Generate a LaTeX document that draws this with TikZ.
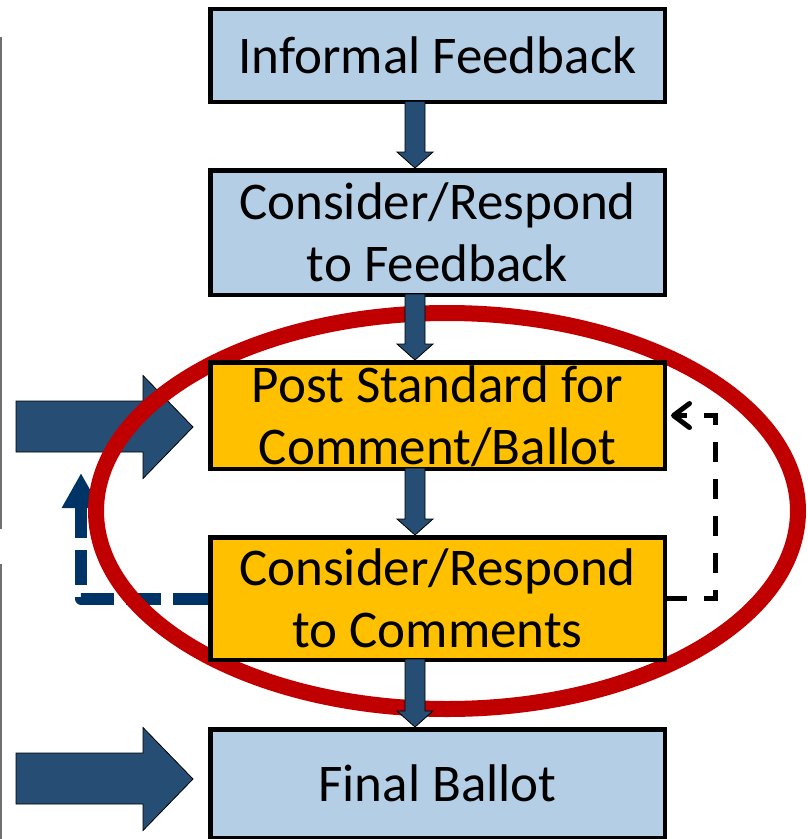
\documentclass[tikz,border=0pt]{standalone}
\usepackage{fontspec}
\setmainfont{Carlito}
\usetikzlibrary{calc,arrows.meta}
\pgfdeclarelayer{bg}
\pgfsetlayers{bg,main}
\definecolor{boxblue}{HTML}{B4CFE5}
\definecolor{boxorange}{HTML}{FFC000}
\definecolor{arrowblue}{HTML}{264E74}
\definecolor{dashblue}{HTML}{003366}
\definecolor{ringred}{HTML}{C00000}
\definecolor{edgegray}{HTML}{707070}
\newcommand\downblock[2]{%
  \filldraw[blockarrow]
    ($(ax|-#1.south)+(-10,-3)$) -- ($(ax|-#1.south)+(10,-3)$) --
    ($(ax|-#2.north)+(10,-16)$) -- ($(ax|-#2.north)+(18,-16)$) --
    (ax|-#2.north) -- ($(ax|-#2.north)+(-18,-16)$) --
    ($(ax|-#2.north)+(-10,-16)$) -- cycle;}
\newcommand\leftblock[1]{%
  \filldraw[blockarrow]
    (#1) -- ($(#1)+(-50,-51.5)$) -- ($(#1)+(-50,-26)$) --
    ($(#1)+(-177,-26)$) -- ($(#1)+(-177,25)$) -- ($(#1)+(-50,25)$) --
    ($(#1)+(-50,51.5)$) -- cycle;}
\begin{document}
\begin{tikzpicture}[x=1pt,y=-1pt,
  stepbox/.style={draw=black,line width=4.5pt,minimum width=454.5pt,inner sep=0pt,
    align=center,font=\fontsize{53}{62}\selectfont},
  bluebox/.style={stepbox,fill=boxblue},
  orangebox/.style={stepbox,fill=boxorange},
  blockarrow/.style={fill=arrowblue,draw=black,line width=0.8pt,line join=miter},
]
\useasboundingbox (0,0) rectangle (807,839);

% boxes
\node[bluebox,minimum height=93pt] (b1) at (437.5,55.5) {Informal Feedback};
\node[bluebox,minimum height=124.5pt] (b2) at (437.5,232.5) {Consider/Respond\\to Feedback};
\node[orangebox,minimum height=106.5pt,text depth=0pt] (b3) at (437.5,415.5) {Post Standard for\\Comment/Ballot};
\node[orangebox,minimum height=122.5pt] (b4) at (437.5,598.5) {Consider/Respond\\to Comments};
\node[bluebox,minimum height=108.5pt] (b5) at (437.5,783.5) {Final Ballot};

\coordinate (ax) at (415,0);
\coordinate (rx) at (715,0);
\coordinate (lx) at (81,473);
\coordinate (la1) at (193,427);
\coordinate (la2) at (193,779);

\begin{pgfonlayer}{bg}
  \draw[edgegray,line width=2pt] (1,37) -- (1,529) (1,564) -- (1,839);
  \leftblock{la1}
  \leftblock{la2}
  \draw[dashblue,line width=12pt,line join=round,dash pattern=on 35pt off 12pt,
        -{Triangle[length=35pt,width=36pt]}] (b4.west) -| (lx);
  \draw[black,line width=5pt,dash pattern=on 20pt off 17pt,
        -{Straight Barb[length=16pt,width=24pt,round]},shorten >=4pt]
        (b4.east) -- (rx|-b4.east) -- (rx|-b3.east) -- (b3.east);
  \draw[ringred,line width=16pt] (447,511) ellipse [x radius=351, y radius=198];
\end{pgfonlayer}

% flow arrows
\downblock{b1}{b2}
\downblock{b2}{b3}
\downblock{b3}{b4}
\downblock{b4}{b5}
\end{tikzpicture}
\end{document}
